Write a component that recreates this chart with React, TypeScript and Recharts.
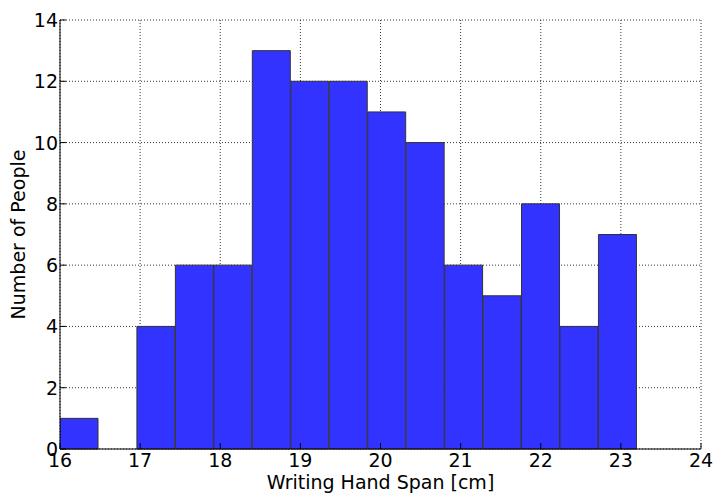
import React from "react";
import {
  ComposedChart, Bar, XAxis, YAxis, CartesianGrid, Label
} from "recharts";

// histogram: 15 bins of width 0.48 starting at 16
const binCenters = [16.24, 16.72, 17.2, 17.68, 18.16, 18.64, 19.12, 19.6, 20.08, 20.56, 21.04, 21.52, 22.0, 22.48, 22.96];
const counts = [1, 0, 4, 6, 6, 13, 12, 12, 11, 10, 6, 5, 8, 4, 7];
const xTicks = [16, 17, 18, 19, 20, 21, 22, 23, 24];
const yTicks = [0, 2, 4, 6, 8, 10, 12, 14];

const data = binCenters.map((x, i) => ({ x, n: counts[i] }));

const FONT = "'DejaVu Sans', sans-serif";
const FS = 19;
const TICK = 6;

const LeftTick = ({ x, y, payload }: any) => (
  <g>
    <line x1={x} y1={y} x2={x + TICK} y2={y} stroke="#000" strokeWidth={1} />
    <text x={x - 2} y={y} textAnchor="end" dominantBaseline="central" fontFamily={FONT} fontSize={FS} fill="#000">
      {payload.value}
    </text>
  </g>
);

const RightTick = ({ x, y }: any) => (
  <line x1={x - TICK} y1={y} x2={x} y2={y} stroke="#000" strokeWidth={1} />
);

const BottomTick = ({ x, y, payload }: any) => (
  <g>
    <line x1={x} y1={y} x2={x} y2={y - TICK} stroke="#000" strokeWidth={1} />
    <text x={x} y={y + 18} textAnchor="middle" fontFamily={FONT} fontSize={FS} fill="#000">
      {payload.value}
    </text>
  </g>
);

const TopTick = ({ x, y }: any) => (
  <line x1={x} y1={y} x2={x} y2={y + TICK} stroke="#000" strokeWidth={1} />
);

export default function App() {
  return (
    <div style={{ position: "absolute", left: 0, top: 0, width: 717, height: 494, background: "#fff" }}>
      <ComposedChart
        width={717}
        height={494}
        data={data}
        margin={{ top: 20, right: 16, bottom: 0, left: 0 }}
        barCategoryGap={0}
        barGap={0}
      >
        <XAxis
          dataKey="x"
          type="number"
          domain={[16, 24]}
          ticks={xTicks}
          interval={0}
          allowDataOverflow
          height={45}
          tickSize={0}
          tickMargin={0}
          tick={<BottomTick />}
          axisLine={{ stroke: "#000", strokeWidth: 1 }}
          tickLine={false}
        >
          <Label
            content={({ viewBox }: any) => (
              <text
                x={viewBox.x + viewBox.width / 2}
                y={488.5}
                textAnchor="middle"
                fontFamily={FONT}
                fontSize={FS}
                fill="#000"
              >
                Writing Hand Span [cm]
              </text>
            )}
          />
        </XAxis>
        <XAxis
          xAxisId="top"
          dataKey="x"
          type="number"
          orientation="top"
          domain={[16, 24]}
          ticks={xTicks}
          interval={0}
          allowDataOverflow
          height={0}
          tickSize={0}
          tickMargin={0}
          tick={<TopTick />}
          axisLine={{ stroke: "#000", strokeWidth: 1 }}
          tickLine={false}
        />
        <YAxis
          type="number"
          domain={[0, 14]}
          ticks={yTicks}
          interval={0}
          width={60}
          tickSize={0}
          tickMargin={0}
          tick={<LeftTick />}
          axisLine={{ stroke: "#000", strokeWidth: 1 }}
          tickLine={false}
        >
          <Label
            content={({ viewBox }: any) => {
              const cy = viewBox.y + viewBox.height / 2;
              return (
                <text
                  x={25}
                  y={cy}
                  transform={`rotate(-90, 25, ${cy})`}
                  textAnchor="middle"
                  fontFamily={FONT}
                  fontSize={FS}
                  fill="#000"
                >
                  Number of People
                </text>
              );
            }}
          />
        </YAxis>
        <YAxis
          yAxisId="right"
          type="number"
          orientation="right"
          domain={[0, 14]}
          ticks={yTicks}
          interval={0}
          width={0}
          tickSize={0}
          tickMargin={0}
          tick={<RightTick />}
          axisLine={{ stroke: "#000", strokeWidth: 1 }}
          tickLine={false}
        />
        <Bar
          dataKey="n"
          fill="#3333ff"
          stroke="#333333"
          strokeWidth={1}
          isAnimationActive={false}
        />
        <CartesianGrid
          stroke="#000"
          strokeWidth={0.8}
          strokeDasharray="1 2"
          verticalValues={xTicks}
          horizontalValues={yTicks}
        />
      </ComposedChart>
    </div>
  );
}
